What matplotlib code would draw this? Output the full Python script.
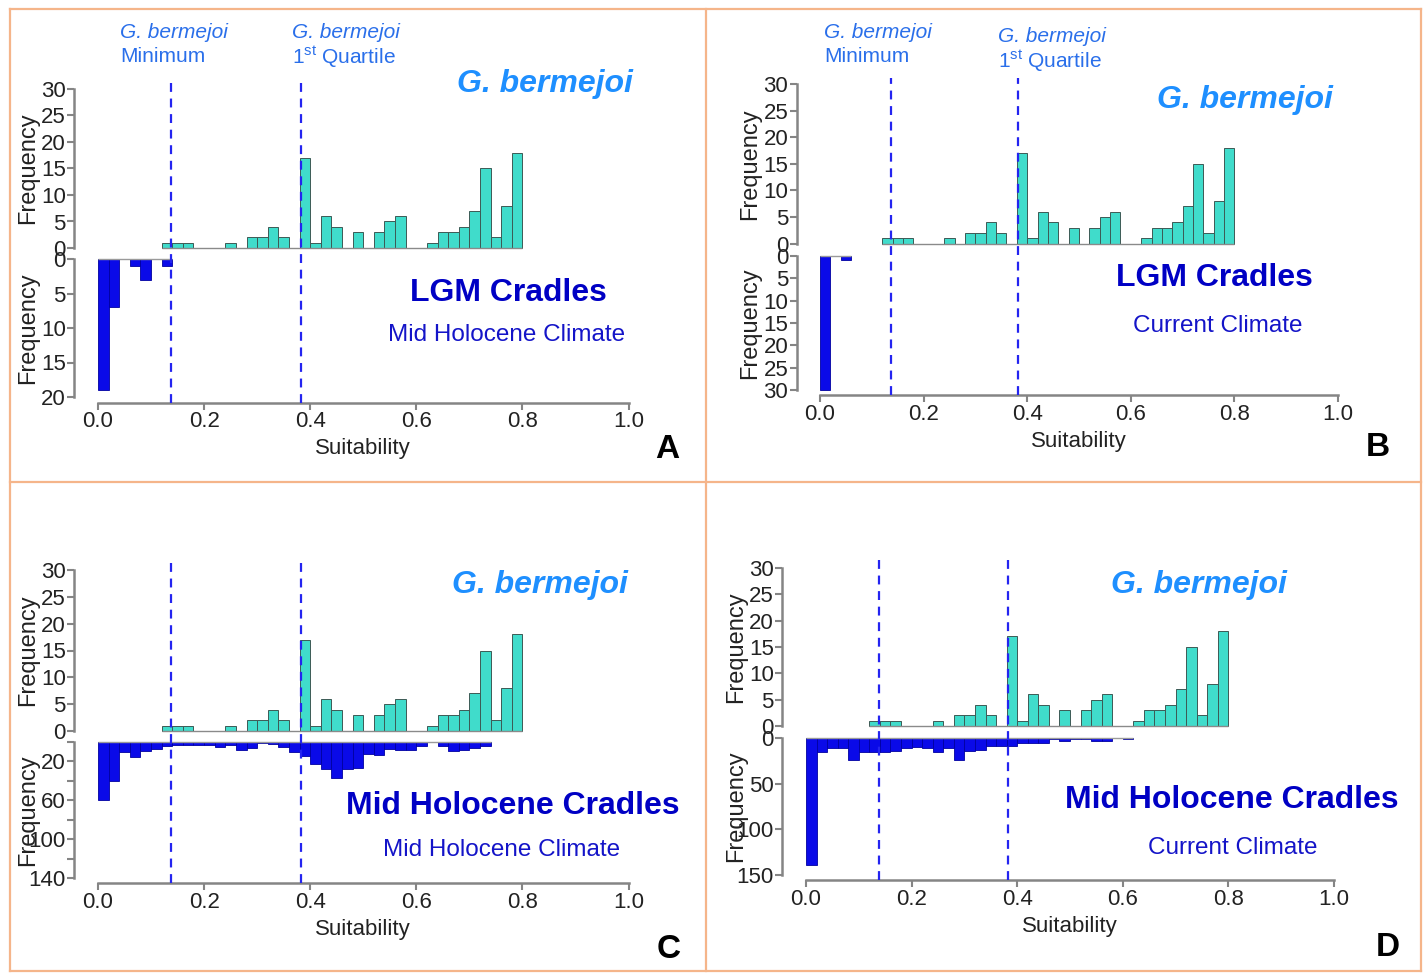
import numpy as np
import matplotlib.pyplot as plt
from matplotlib.lines import Line2D

plt.rcParams['font.family'] = ['Liberation Sans']
plt.rcParams['mathtext.fontset'] = 'custom'
plt.rcParams['mathtext.rm'] = 'Liberation Sans'
plt.rcParams['mathtext.it'] = 'Liberation Sans:italic'

W, H = 1428, 974
bin_width = 0.02

# G. bermejoi suitability histogram (same upper plot in every panel), bins from 0.12
bermejoi_start = 0.12
bermejoi_counts = [1, 1, 1, 0, 0, 0, 1, 0, 2, 2, 4, 2, 0, 17, 1, 6, 4, 0, 3, 0,
                   3, 5, 6, 0, 0, 1, 3, 3, 4, 7, 15, 2, 8, 18]

# cradle histograms (lower plots), bins from 0.0
lgm_mid_counts = [19, 7, 0, 1, 3, 0, 1]
lgm_cur_counts = [30, 0, 1]
mh_mid_counts = [60, 40, 10, 15, 9, 7, 4, 3, 3, 3, 3, 5, 3, 8, 6, 1, 2, 5, 10,
                 14, 23, 28, 37, 28, 27, 12, 13, 7, 8, 8, 4, 0, 4, 9, 8, 6, 4]
mh_cur_counts = [139, 15, 11, 11, 24, 15, 15, 15, 14, 11, 10, 11, 15, 11, 24, 14,
                 13, 9, 9, 9, 6, 6, 6, 1, 3, 1, 1, 3, 3, 0, 1]

bermejoi_min = 0.138
bermejoi_q1 = 0.382

x_ticks = [0.0, 0.2, 0.4, 0.6, 0.8, 1.0]
top_ticks = [0, 5, 10, 15, 20, 25, 30]

panels = [
    dict(letter='A', counts=lgm_mid_counts, ymax=20, yticks=[0, 5, 10, 15, 20],
         ylabels=['0', '5', '10', '15', '20'], cradle='LGM Cradles', climate='Mid Holocene Climate',
         x0=98, x1=628.5, t30=89, t0=248, b0=259, bmax=397, dash_top=82,
         notes=[(120, 32, 'Minimum'), (292, 33, '1$^{\\mathrm{st}}$ Quartile')],
         sp=(545, 84), cp=(508, 293), clp=(507, 335), lp=(667, 450)),
    dict(letter='B', counts=lgm_cur_counts, ymax=30, yticks=[0, 5, 10, 15, 20, 25, 30],
         ylabels=['0', '5', '10', '15', '20', '25', '30'], cradle='LGM Cradles', climate='Current Climate',
         x0=820, x1=1338, t30=84, t0=243.5, b0=256, bmax=390, dash_top=78,
         notes=[(824, 33, 'Minimum'), (998, 37, '1$^{\\mathrm{st}}$ Quartile')],
         sp=(1245, 100), cp=(1214, 278), clp=(1218, 326), lp=(1378, 448)),
    dict(letter='C', counts=mh_mid_counts, ymax=140, yticks=[0, 20, 40, 60, 80, 100, 120, 140],
         ylabels=['', '20', '', '60', '', '100', '', '140'], cradle='Mid Holocene Cradles',
         climate='Mid Holocene Climate',
         x0=98, x1=628.5, t30=570, t0=731, b0=742, bmax=878, dash_top=562, notes=[],
         sp=(540, 585), cp=(513, 806), clp=(502, 850), lp=(669, 950)),
    dict(letter='D', counts=mh_cur_counts, ymax=150, yticks=[0, 50, 100, 150],
         ylabels=['0', '50', '100', '150'], cradle='Mid Holocene Cradles', climate='Current Climate',
         x0=806, x1=1334, t30=568, t0=726, b0=738, bmax=875, dash_top=558, notes=[],
         sp=(1199, 585), cp=(1232, 800), clp=(1233, 848), lp=(1388, 947)),
]

teal = '#40DCCB'
teal_edge = '#3C5A55'
blue = '#0A0AE8'
axis_grey = '#858585'
text_dark = '#222222'
tick_font = dict(size=16)
pad = 0.045

fig = plt.figure(figsize=(W / 100, H / 100), dpi=100)


def px_axes(left, top, right, bottom):
    return fig.add_axes([left / W, 1 - bottom / H, (right - left) / W, (bottom - top) / H])


def style_axes(ax):
    for s in ['top', 'right']:
        ax.spines[s].set_visible(False)
    for s in ['left', 'bottom']:
        ax.spines[s].set_color(axis_grey)
        ax.spines[s].set_linewidth(1.8)
    ax.tick_params(colors=axis_grey, width=1.5, length=5, pad=1, labelcolor=text_dark)
    ax.set_facecolor('none')


def fx(x):
    return x / W


def fy(y):
    return 1 - y / H


for p in panels:
    span = p['x1'] - p['x0']
    left = p['x0'] - pad * span
    right = p['x1'] + pad * span

    # upper: G. bermejoi
    unit = (p['t0'] - p['t30']) / 30
    ax_t = px_axes(left, p['t30'] - 1.2 * unit, right, p['t0'] + 1.2 * unit)
    lefts = bermejoi_start + bin_width * np.arange(len(bermejoi_counts))
    ax_t.bar(lefts, bermejoi_counts, width=bin_width, align='edge', color=teal,
             edgecolor=teal_edge, linewidth=0.7)
    ax_t.hlines(0, lefts[0], lefts[-1] + bin_width, color='#8a8a8a', lw=1.0, zorder=1)
    ax_t.set_xlim(-pad, 1 + pad)
    ax_t.set_ylim(-1.2, 31.2)
    style_axes(ax_t)
    ax_t.spines['bottom'].set_visible(False)
    ax_t.spines['left'].set_bounds(0, 30)
    ax_t.set_xticks([])
    ax_t.set_yticks(top_ticks)
    ax_t.set_yticklabels([str(t) for t in top_ticks], fontdict=tick_font)

    # lower: cradles
    ymax = p['ymax']
    unit = (p['bmax'] - p['b0']) / ymax
    axis_y = p['bmax'] + 0.04 * ymax * unit
    ax_b = px_axes(left, p['b0'] - 0.04 * ymax * unit, right, axis_y)
    lefts = bin_width * np.arange(len(p['counts']))
    ax_b.bar(lefts, p['counts'], width=bin_width, align='edge', color=blue,
             edgecolor='#0000A0', linewidth=0.6)
    ax_b.hlines(0, lefts[0], lefts[-1] + bin_width, color='#9a9a9a', lw=1.0, zorder=1)
    ax_b.set_xlim(-pad, 1 + pad)
    ax_b.set_ylim(1.04 * ymax, -0.04 * ymax)
    style_axes(ax_b)
    ax_b.spines['left'].set_bounds(0, ymax)
    ax_b.spines['bottom'].set_bounds(0, 1)
    ax_b.set_yticks(p['yticks'])
    ax_b.set_yticklabels(p['ylabels'], fontdict=tick_font)
    ax_b.set_xticks(x_ticks)
    ax_b.set_xticklabels([f'{t:.1f}' for t in x_ticks], fontdict=tick_font)
    ax_b.tick_params(axis='x', pad=1, length=5)

    # dashed reference lines across both plots
    ax_d = px_axes(left, p['dash_top'], right, axis_y)
    ax_d.set_xlim(-pad, 1 + pad)
    ax_d.set_ylim(0, 1)
    ax_d.axis('off')
    for v in [bermejoi_min, bermejoi_q1]:
        ax_d.axvline(v, color='#2424F0', lw=1.6, ls=(0, (4, 3)))

    # axis titles
    for yc in [(p['t30'] + p['t0']) / 2, (p['b0'] + p['bmax']) / 2]:
        fig.text(fx(p['x0'] - 70), fy(yc), 'Frequency', rotation=90,
                 ha='center', va='center', color=text_dark, size=17)
    fig.text(fx(p['x0'] + 0.5 * span), fy(axis_y + 46), 'Suitability', ha='center', va='center',
             color=text_dark, size=16)

    fig.text(fx(p['sp'][0]), fy(p['sp'][1]), 'G. bermejoi', ha='center', va='center',
             color='#1E8FFF', style='italic', weight='bold', size=23)
    fig.text(fx(p['cp'][0]), fy(p['cp'][1]), p['cradle'], ha='center', va='center',
             color='#0000C4', weight='bold', size=23)
    fig.text(fx(p['clp'][0]), fy(p['clp'][1]), p['climate'], ha='center', va='center',
             color='#1414C8', size=17.5)
    fig.text(fx(p['lp'][0]), fy(p['lp'][1]), p['letter'], ha='center', va='center',
             color='black', weight='bold', size=24)

    for xpx, ypx, sub in p['notes']:
        fig.text(fx(xpx), fy(ypx), 'G. bermejoi', ha='left', va='center',
                 color='#2A6FEA', style='italic', size=15)
        fig.text(fx(xpx), fy(ypx + 24), sub, ha='left', va='center',
                 color='#2A6FEA', size=15)

# orange panel frames
frame = '#F5B58A'
for x in [10, 706, 1421]:
    fig.add_artist(Line2D([fx(x), fx(x)], [fy(9), fy(971)], color=frame, lw=1.6))
for y in [9, 482, 971]:
    fig.add_artist(Line2D([fx(10), fx(1421)], [fy(y), fy(y)], color=frame, lw=1.6))

fig.savefig('out.png', dpi=100)
